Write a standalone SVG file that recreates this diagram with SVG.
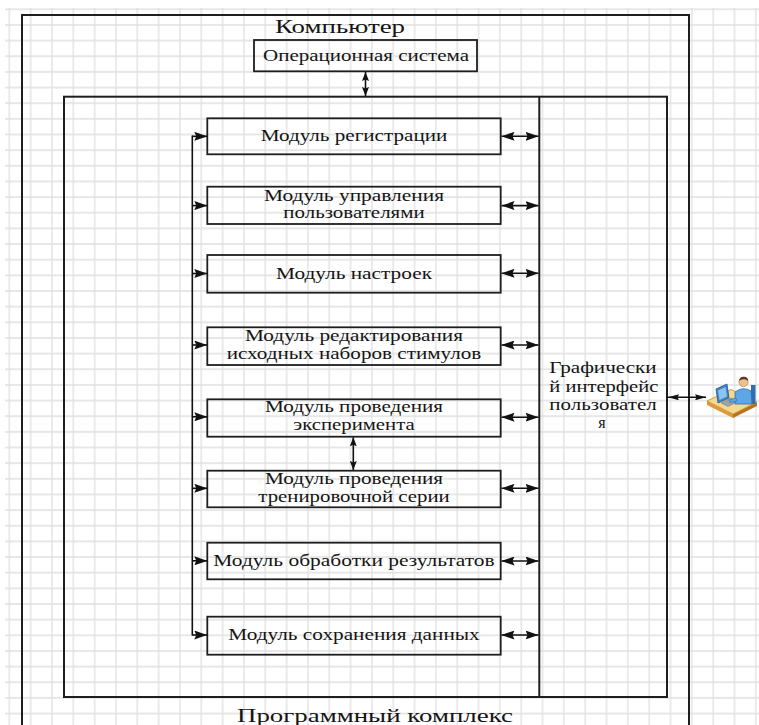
<svg xmlns="http://www.w3.org/2000/svg" width="759" height="725" viewBox="0 0 759 725">
  <defs>
    <!-- background drawing grid -->
    <pattern id="grid" patternUnits="userSpaceOnUse" x="-1.37" y="1.47" width="21.33" height="15.65">
      <path d="M10.67,0 V15.65 M0,7.83 H21.33" stroke="#e0e0e0" stroke-width="1.3" fill="none"/>
    </pattern>
    <!-- horizontal arrowhead -->
    <marker id="ah" viewBox="0 0 13 9" refX="13" refY="4.5" markerWidth="13" markerHeight="9" markerUnits="userSpaceOnUse" orient="auto-start-reverse">
      <path d="M0,0 L13,4.5 L0,9 L2,4.5 Z" fill="#111"/>
    </marker>
    <!-- vertical arrowhead -->
    <marker id="av" viewBox="0 0 9 7" refX="9" refY="3.5" markerWidth="9" markerHeight="7" markerUnits="userSpaceOnUse" orient="auto-start-reverse">
      <path d="M0,0 L9,3.5 L0,7 L1.5,3.5 Z" fill="#111"/>
    </marker>
    <!-- small arrowhead for the user link -->
    <marker id="as" viewBox="0 0 11 6" refX="11" refY="3" markerWidth="11" markerHeight="6" markerUnits="userSpaceOnUse" orient="auto-start-reverse">
      <path d="M0,0 L11,3 L0,6 L1.5,3 Z" fill="#111"/>
    </marker>
  </defs>
  <style>
    .frame { fill: none; stroke: #1e1e1e; stroke-width: 2; }
    .box { fill: none; stroke: #1e1e1e; stroke-width: 1.8; }
    .conn { fill: none; stroke: #111; stroke-width: 1.6; }
    .dbl { marker-start: url(#ah); marker-end: url(#ah); }
    .one { marker-end: url(#ah); }
    .vdbl { marker-start: url(#av); marker-end: url(#av); }
    text { font-family: "Liberation Serif", "Times New Roman", serif; fill: #141414; }
    .t { font-size: 16px; text-anchor: middle; }
    .title { font-size: 19px; text-anchor: middle; }
  </style>

  <rect x="0" y="0" width="759" height="725" fill="#ffffff"/>
  <rect x="5" y="8" width="754" height="717" fill="url(#grid)"/>

  <!-- Computer frame -->
  <g id="computer">
    <rect class="frame" x="22" y="15" width="667" height="730"/>
    <text class="title" x="340" y="33" textLength="130" lengthAdjust="spacingAndGlyphs">Компьютер</text>
  </g>

  <!-- Operating system -->
  <g id="os">
    <rect class="box" x="254" y="40" width="223" height="31.3"/>
    <text class="t" x="366" y="60.5" textLength="206" lengthAdjust="spacingAndGlyphs">Операционная система</text>
  </g>

  <!-- Software complex frame -->
  <g id="complex">
    <rect class="frame" x="64" y="96.7" width="603" height="600.3"/>
    <text class="title" x="375" y="721.5" textLength="276" lengthAdjust="spacingAndGlyphs">Программный комплекс</text>
  </g>

  <!-- Graphical user interface -->
  <g id="gui">
    <line class="frame" x1="539.3" y1="96.7" x2="539.3" y2="697"/>
    <text class="t" x="603" y="373.3" textLength="107.4" lengthAdjust="spacingAndGlyphs">Графически</text>
    <text class="t" x="603.8" y="391.7" textLength="109" lengthAdjust="spacingAndGlyphs">й интерфейс</text>
    <text class="t" x="603" y="410" textLength="107.4" lengthAdjust="spacingAndGlyphs">пользовател</text>
    <text x="598.3" y="428.3" font-size="16">я</text>
  </g>

  <!-- Modules -->
  <g id="m1">
    <rect class="box" x="207.3" y="118.3" width="293.4" height="36"/>
    <text class="t" x="354" y="141" textLength="186.6" lengthAdjust="spacingAndGlyphs">Модуль регистрации</text>
  </g>
  <g id="m2">
    <rect class="box" x="207.3" y="186.7" width="293.4" height="37.3"/>
    <text class="t" x="354" y="200.5" textLength="180" lengthAdjust="spacingAndGlyphs">Модуль управления</text>
    <text class="t" x="354" y="218" textLength="141.4" lengthAdjust="spacingAndGlyphs">пользователями</text>
  </g>
  <g id="m3">
    <rect class="box" x="207.3" y="255" width="293.4" height="37.7"/>
    <text class="t" x="354" y="278.5" textLength="156" lengthAdjust="spacingAndGlyphs">Модуль настроек</text>
  </g>
  <g id="m4">
    <rect class="box" x="207.3" y="327.3" width="293.4" height="37.7"/>
    <text class="t" x="354" y="341.3" textLength="218" lengthAdjust="spacingAndGlyphs">Модуль редактирования</text>
    <text class="t" x="354" y="358.5" textLength="254.6" lengthAdjust="spacingAndGlyphs">исходных наборов стимулов</text>
  </g>
  <g id="m5">
    <rect class="box" x="207.3" y="399.3" width="293.4" height="37.4"/>
    <text class="t" x="354" y="412" textLength="178" lengthAdjust="spacingAndGlyphs">Модуль проведения</text>
    <text class="t" x="354" y="430" textLength="121.4" lengthAdjust="spacingAndGlyphs">эксперимента</text>
  </g>
  <g id="m6">
    <rect class="box" x="207.3" y="470.7" width="293.4" height="36.6"/>
    <text class="t" x="354" y="483.5" textLength="178" lengthAdjust="spacingAndGlyphs">Модуль проведения</text>
    <text class="t" x="354" y="501.7" textLength="191.4" lengthAdjust="spacingAndGlyphs">тренировочной серии</text>
  </g>
  <g id="m7">
    <rect class="box" x="207.3" y="542.7" width="293.4" height="36.6"/>
    <text class="t" x="354" y="566" textLength="281.4" lengthAdjust="spacingAndGlyphs">Модуль обработки результатов</text>
  </g>
  <g id="m8">
    <rect class="box" x="207.3" y="616.7" width="293.4" height="38"/>
    <text class="t" x="354" y="640" textLength="251.4" lengthAdjust="spacingAndGlyphs">Модуль сохранения данных</text>
  </g>

  <!-- User workstation icon -->
  <g id="user">
    <polygon points="733,414 757,402 757,406 733,418" fill="#b8731f"/>
    <polygon points="707,401 733,414 733,418 707,405" fill="#dc9a3c"/>
    <polygon points="707,401 731,389.5 757,402 733,414" fill="#f5d98e" stroke="#c98a2b" stroke-width="0.8"/>
    <polygon points="721,403 731,398 738,401.5 728,406.5" fill="#9aa4ae" stroke="#6b747c" stroke-width="0.5"/>
    <polygon points="716,389 727,384 729,398 718,403" fill="#3f82c6" stroke="#24598f" stroke-width="0.8"/>
    <polygon points="718,390.5 725.5,387 727,396.5 719.5,400" fill="#8cc4f0"/>
    <rect x="751" y="385" width="4.5" height="19" fill="#2f6eb0"/>
    <path d="M735,404 L735,392 Q743,386 751,391 L752,404 Z" fill="#5fa6e6" stroke="#2f6eb0" stroke-width="0.8"/>
    <path d="M736,398 L729,400 L730,402.5 L737,401 Z" fill="#5fa6e6" stroke="#2f6eb0" stroke-width="0.6"/>
    <circle cx="743.5" cy="382" r="4.6" fill="#f2c08e" stroke="#b07a45" stroke-width="0.6"/>
    <path d="M739,381 Q739.5,376.5 744,376.8 Q748.3,377 748.2,381 Q746,378.8 743.5,379.3 Q741,379.5 739,381 Z" fill="#5a3a1e"/>
  </g>

  <!-- Connectors -->
  <g id="connectors">
    <!-- OS to software complex -->
    <line class="conn vdbl" x1="365.5" y1="72" x2="365.5" y2="96"/>
    <!-- experiment to training series -->
    <line class="conn vdbl" x1="353.3" y1="437.3" x2="353.3" y2="470"/>
    <!-- distribution bus on the left -->
    <line class="conn" x1="192.3" y1="135.5" x2="192.3" y2="635.5"/>
    <line class="conn one" x1="192.3" y1="136.3" x2="207.3" y2="136.3"/>
    <line class="conn one" x1="192.3" y1="205.6" x2="207.3" y2="205.6"/>
    <line class="conn one" x1="192.3" y1="273.5" x2="207.3" y2="273.5"/>
    <line class="conn one" x1="192.3" y1="345" x2="207.3" y2="345"/>
    <line class="conn one" x1="192.3" y1="416.8" x2="207.3" y2="416.8"/>
    <line class="conn one" x1="192.3" y1="488.3" x2="207.3" y2="488.3"/>
    <line class="conn one" x1="192.3" y1="560.8" x2="207.3" y2="560.8"/>
    <line class="conn one" x1="192.3" y1="635" x2="207.3" y2="635"/>
    <!-- modules to the graphical interface -->
    <line class="conn dbl" x1="501.5" y1="136.3" x2="538.5" y2="136.3"/>
    <line class="conn dbl" x1="501.5" y1="205.6" x2="538.5" y2="205.6"/>
    <line class="conn dbl" x1="501.5" y1="273.3" x2="538.5" y2="273.3"/>
    <line class="conn dbl" x1="501.5" y1="345" x2="538.5" y2="345"/>
    <line class="conn dbl" x1="501.5" y1="417.2" x2="538.5" y2="417.2"/>
    <line class="conn dbl" x1="501.5" y1="488.3" x2="538.5" y2="488.3"/>
    <line class="conn dbl" x1="501.5" y1="561" x2="538.5" y2="561"/>
    <line class="conn dbl" x1="501.5" y1="635" x2="538.5" y2="635"/>
    <!-- interface to the user -->
    <line class="conn" x1="668" y1="397.3" x2="706" y2="397.3" marker-start="url(#as)" marker-end="url(#as)"/>
  </g>
</svg>
